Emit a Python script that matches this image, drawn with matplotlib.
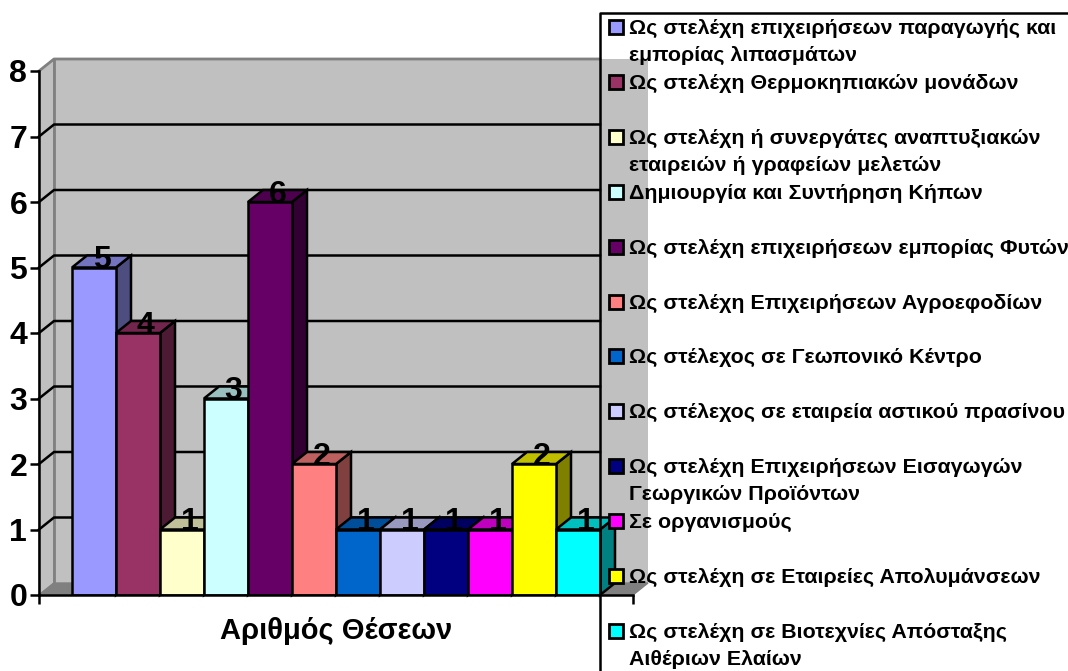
import matplotlib
matplotlib.use('Agg')
import matplotlib.pyplot as plt
from matplotlib.colors import to_rgb

plt.rcParams['font.family'] = ['Liberation Sans', 'DejaVu Sans']
plt.rcParams['font.weight'] = 'bold'

# Chart data
labels = [
    'Ως στελέχη επιχειρήσεων παραγωγής και\nεμπορίας λιπασμάτων',
    'Ως στελέχη Θερμοκηπιακών μονάδων',
    'Ως στελέχη ή συνεργάτες αναπτυξιακών\nεταιρειών ή γραφείων μελετών',
    'Δημιουργία και Συντήρηση Κήπων',
    'Ως στελέχη επιχειρήσεων εμπορίας Φυτών',
    'Ως στελέχη Επιχειρήσεων Αγροεφοδίων',
    'Ως στέλεχος σε Γεωπονικό Κέντρο',
    'Ως στέλεχος σε εταιρεία αστικού πρασίνου',
    'Ως στελέχη Επιχειρήσεων Εισαγωγών\nΓεωργικών Προϊόντων',
    'Σε οργανισμούς',
    'Ως στελέχη σε Εταιρείες Απολυμάνσεων',
    'Ως στελέχη σε Βιοτεχνίες Απόσταξης\nΑιθέριων Ελαίων',
]
values = [5, 4, 1, 3, 6, 2, 1, 1, 1, 1, 2, 1]
colors = ['#9999FF', '#993366', '#FFFFCC', '#CCFFFF', '#660066', '#FF8080',
          '#0066CC', '#CCCCFF', '#000080', '#FF00FF', '#FFFF00', '#00FFFF']
y_ticks = [0, 1, 2, 3, 4, 5, 6, 7, 8]
x_title = 'Αριθμός Θέσεων'

W, H = 1068, 671
BAR_PX = 44.0
UNIT_PX = 65.5
DX = 15 / BAR_PX     # depth of the 3d effect in data units
DY = 12 / UNIT_PX
LW = 1.8


def shade(color, f):
    return tuple(c * f for c in to_rgb(color))


fig = plt.figure(figsize=(W / 100, H / 100), dpi=100)

# axes = front plane of the fake 3d box
ax = fig.add_axes([39 / W, (H - 595) / H, (633 - 39) / W, 524 / H])
ax.patch.set_visible(False)
ax.set_xlim(-0.75, 12.75)
ax.set_ylim(0, 8)

# Walls and floor
x0, x1 = ax.get_xlim()
y0, y1 = ax.get_ylim()
ax.fill([x0 + DX, x1 + DX, x1 + DX, x0 + DX], [y0 + DY, y0 + DY, y1 + DY, y1 + DY],
        facecolor='#C0C0C0', edgecolor='none', clip_on=False, zorder=0)
ax.fill([x0, x0 + DX, x0 + DX, x0], [y0, y0 + DY, y1 + DY, y1],
        facecolor='#C0C0C0', edgecolor='#808080', lw=1, clip_on=False, zorder=0)
ax.fill([x0, x1, x1 + DX, x0 + DX], [y0, y0, y0 + DY, y0 + DY],
        facecolor='#808080', edgecolor='#808080', lw=1, clip_on=False, zorder=0.5)
ax.plot([x0 + DX, x0 + DX], [y0 + DY, y1 + DY], color='#808080', lw=2, clip_on=False, zorder=0.6)
ax.plot([x0, x0 + DX, 12], [y1, y1 + DY, y1 + DY], color='#808080', lw=2, clip_on=False, zorder=0.6)

# Gridlines, stop at the legend border
for t in y_ticks[1:-1]:
    ax.plot([x0, x0 + DX, 12], [t, t + DY, t + DY], color='black', lw=LW, clip_on=False, zorder=1)

# Bars, left to right so each one covers the side of the previous
for i, (v, c) in enumerate(zip(values, colors)):
    z = 2 + i * 0.1
    ax.fill([i + 1, i + 1 + DX, i + 1 + DX, i + 1], [0, DY, v + DY, v],
            facecolor=shade(c, 0.5), edgecolor='black', lw=LW, clip_on=False, zorder=z)
    ax.fill([i, i + 1, i + 1 + DX, i + DX], [v, v, v + DY, v + DY],
            facecolor=shade(c, 0.75), edgecolor='black', lw=LW, clip_on=False, zorder=z)
    ax.bar(i, v, width=1, align='edge', color=c, edgecolor='black', lw=LW, zorder=z + 0.01)

for i, v in enumerate(values):
    ax.text(i + 0.5 + 0.17, v - 0.01, str(v), ha='center', va='baseline', fontsize=23, zorder=5)

# Axes
ax.spines['top'].set_visible(False)
ax.spines['right'].set_visible(False)
for s in ['left', 'bottom']:
    ax.spines[s].set_linewidth(LW)
    ax.spines[s].set_zorder(4)
ax.set_yticks(y_ticks)
ax.set_xticks([x0, x1])
ax.set_xticklabels(['', ''])
ax.tick_params(axis='both', length=6.5, width=LW)
ax.tick_params(axis='y', labelsize=23, pad=2)
ax.set_xlabel(x_title, fontsize=21, fontweight='bold', labelpad=6)

# Legend, drawn by hand in pixel coordinates because of its uneven layout
leg = fig.add_axes([0, 0, 1, 1], zorder=10)
leg.set_xlim(0, W)
leg.set_ylim(H, 0)
leg.axis('off')
leg.plot([W, 600, 600], [13, 13, H], color='black', lw=LW)
for i, (label, c) in enumerate(zip(labels, colors)):
    yc = 27 + i * 54.9
    leg.add_patch(plt.Rectangle((609, yc - 7), 14, 14, facecolor=c, edgecolor='black', lw=2))
    for j, line in enumerate(label.split('\n')):
        leg.text(629, yc + 7 + j * 27, line, fontsize=15.4, va='baseline', ha='left')

fig.savefig('out.png', dpi=100)
